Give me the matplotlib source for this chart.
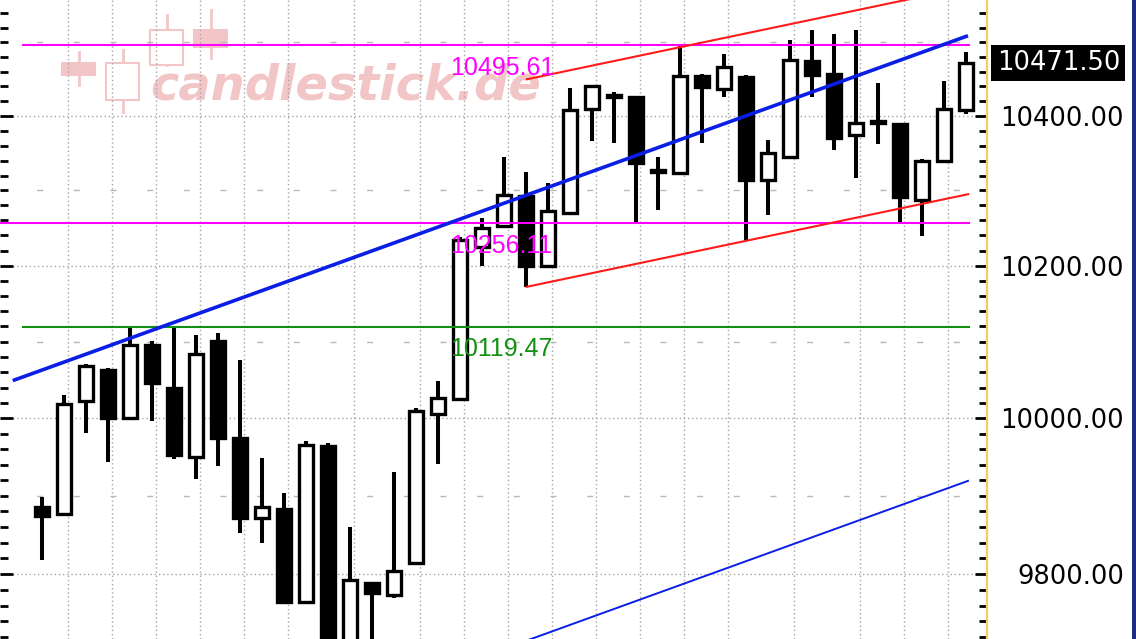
import matplotlib
matplotlib.use("Agg")
import matplotlib.pyplot as plt
import numpy as np
from matplotlib.patches import Rectangle
from matplotlib.lines import Line2D
from matplotlib.ticker import FixedLocator, FormatStrFormatter, NullFormatter

# ---------------- data ----------------
opens  = [9886, 9877, 10022, 10063, 10001, 10095, 10040, 9950, 10101, 9974,
          9872, 9883, 9765, 9964, 9705, 9788, 9773, 9814, 10005, 10025,
          10225, 10252, 10292, 10199, 10270, 10410, 10428, 10426, 10328, 10323,
          10454, 10436, 10453, 10314, 10345, 10474, 10457, 10375, 10393, 10389,
          10287, 10339, 10408]
highs  = [9898, 10030, 10071, 10065, 10119.47, 10101, 10118, 10108, 10111, 10076,
          9948, 9904, 9970, 9968, 9860, 9790, 9930, 10013, 10048, 10238,
          10263, 10345, 10325, 10310, 10438, 10442, 10433, 10427, 10345, 10495.61,
          10457, 10484, 10455, 10368, 10503, 10517, 10511, 10517, 10444, 10391,
          10342, 10447, 10487]
lows   = [9818, 9874, 9981, 9943, 9998, 9997, 9947, 9921, 9938, 9852,
          9840, 9762, 9763, 9690, 9695, 9705, 9770, 9813, 9941, 10022,
          10199, 10250, 10172, 10197, 10268, 10366, 10363, 10256.11, 10274, 10321,
          10363, 10425, 10234, 10267, 10343, 10426, 10354, 10317, 10362, 10257,
          10239, 10337, 10403]
closes = [9874, 10019, 10068, 10001, 10096, 10046, 9953, 10084, 9975, 9871,
          9886, 9764, 9966, 9705, 9792, 9776, 9804, 10009, 10026, 10234,
          10250, 10294, 10200, 10273, 10408, 10441, 10425, 10337, 10325, 10454,
          10439, 10467, 10314, 10350, 10476, 10456, 10370, 10390, 10391, 10291,
          10339, 10409, 10471.50]

# horizontal levels
level_high = 10495.61
level_mid = 10256.11
level_low = 10119.47
level_labels = ["10495.61", "10256.11", "10119.47"]

# trend lines (bar index, value)
blue_trend_x = [-1.33, 42.09]
blue_trend_y = [10049.0, 10508.9]
blue_lower_x = [22.0, 42.09]
blue_lower_y = [9715.4, 9919.1]
red_lower_x = [22.03, 42.10]
red_lower_y = [10172.0, 10295.0]
red_upper_x = [22.03, 42.10]
red_upper_y = [10449.6, 10575.7]

last_price = 10471.50
last_label = "10471.50"

major_ticks = [9800, 10000, 10200, 10400]
minor_ticks = [v for v in range(9720, 10560, 20) if v not in major_ticks]
dash_levels = [9900, 10100, 10300, 10500]
grid_bars = [1, 3, 5, 7, 9, 11, 14, 17, 19, 21, 23, 25, 27, 29, 31, 34, 37, 39, 41]
watermark = "candlestick.de"

# ---------------- figure ----------------
W, H = 1136, 639
fig = plt.figure(figsize=(W / 100, H / 100), dpi=100)
fig.patch.set_facecolor("white")
axw = 987 / W
ax = fig.add_axes([0, 0, axw, 1])
ax.set_facecolor("white")
ax.set_yscale("log")
ax.set_xlim(-1.909, 42.955)
ax.set_ylim(9717.7, 10557.7)

def fx(px):
    return px / 987.0

def fy(py):
    return 1 - py / 639.0

# watermark (decoration, axes fraction)
wm_col = "#f2c6c6"
ax.text(fx(150), fy(100), watermark, transform=ax.transAxes, fontsize=34.5,
        fontweight="bold", fontstyle="italic", color=wm_col, zorder=0.5,
        family="DejaVu Sans", va="baseline", ha="left")
# watermark candle icons
icons = [  # (x0, x1, ytop, ybot, wick_top, wick_bot, filled)
    (62, 95, 63, 75, 52, 85, True),
    (106, 139, 63, 100, 50, 112, False),
    (150, 183, 30, 65, 15, 65, False),
    (194, 227, 30, 47, 10, 58, True),
]
for x0, x1, yt, yb, wt, wb, filled in icons:
    xc = (x0 + x1) / 2
    ax.add_line(Line2D([fx(xc), fx(xc)], [fy(wt), fy(wb)], transform=ax.transAxes,
                       color=wm_col, lw=2, zorder=0.5))
    ax.add_patch(Rectangle((fx(x0), fy(yb)), fx(x1) - fx(x0), fy(yt) - fy(yb),
                           transform=ax.transAxes, facecolor=wm_col if filled else "white",
                           edgecolor=wm_col, lw=1.5, zorder=0.6))

# grid
gcol = "#a4a4a4"
for g in grid_bars:
    ax.axvline(g + 0.16, color=gcol, lw=1, ls=(0, (1, 2)), zorder=1)
for v in major_ticks:
    ax.axhline(v, color=gcol, lw=1, ls=(0, (1, 2)), zorder=1)
for v in dash_levels:
    ax.axhline(v, color="#b8b8b8", lw=1, ls=(0, (4.3, 22.1)), zorder=1)

# candles
xs = np.arange(len(opens))
o = np.array(opens); c = np.array(closes); h = np.array(highs); l = np.array(lows)
up = c >= o
ax.vlines(xs, l, h, color="black", lw=2.9, zorder=3)
bottoms = np.minimum(o, c)
heights = np.maximum(np.abs(c - o), 0.01)
ax.bar(xs, heights, bottom=bottoms, width=0.655,
       color=np.where(up, "white", "black"), edgecolor="black", linewidth=2.4, zorder=4)

# horizontal level lines
ax.hlines(level_high, -0.91, 42.18, color="#ff00ff", lw=1.5, zorder=5)
ax.hlines(level_mid, -1.909, 42.18, color="#ff00ff", lw=1.5, zorder=5)
ax.hlines(level_low, -0.91, 42.18, color="#119011", lw=1.5, zorder=5)

# trend lines
ax.plot(blue_trend_x, blue_trend_y, color="#0a1ee6", lw=2.6, zorder=6, solid_capstyle="butt")
ax.plot(blue_lower_x, blue_lower_y, color="#0a1ee6", lw=1.4, zorder=6)
ax.plot(red_lower_x, red_lower_y, color="#ff1a1a", lw=1.5, zorder=6)
ax.plot(red_upper_x, red_upper_y, color="#ff1a1a", lw=1.5, zorder=6)

# level labels
lab_tr = ax.get_yaxis_transform()
for lev, txt, col in zip([level_high, level_mid, level_low], level_labels,
                         ["#ff00ff", "#ff00ff", "#119011"]):
    ax.annotate(txt, xy=(450 / 987, lev), xycoords=lab_tr, xytext=(0, -21),
                textcoords="offset points", ha="left", va="baseline",
                fontsize=18, family="Liberation Sans", color=col, zorder=7)

# axes / ticks
for s in ["top", "bottom", "left"]:
    ax.spines[s].set_visible(False)
ax.spines["right"].set_color("#f2d060")
ax.spines["right"].set_linewidth(1.6)
ax.set_xticks([])
ax.yaxis.set_major_locator(FixedLocator(major_ticks))
ax.yaxis.set_major_formatter(FormatStrFormatter("%.2f"))
ax.yaxis.set_minor_locator(FixedLocator(minor_ticks))
ax.yaxis.set_minor_formatter(NullFormatter())
ax.tick_params(axis="y", which="both", direction="in", left=True, right=True,
               labelleft=False, labelright=True, color="black")
ax.tick_params(axis="y", which="major", length=9, width=2, pad=98.6, labelsize=18.5)
ax.tick_params(axis="y", which="minor", length=6, width=2)
for lab in ax.get_yticklabels():
    lab.set_horizontalalignment("right")
    lab.set_family("DejaVu Sans")

# last price box
ax.text(1120 / 987, last_price, last_label, transform=lab_tr, ha="right", va="center",
        color="white", fontsize=18.5, family="DejaVu Sans", clip_on=False, zorder=8,
        bbox=dict(boxstyle="square,pad=0.2", fc="black", ec="none"))

# right navy border
fig.patches.append(Rectangle((1132 / W, 0), 4 / W, 1, transform=fig.transFigure,
                             facecolor="#1c2c84", edgecolor="none"))

fig.savefig("out.png", dpi=100)
